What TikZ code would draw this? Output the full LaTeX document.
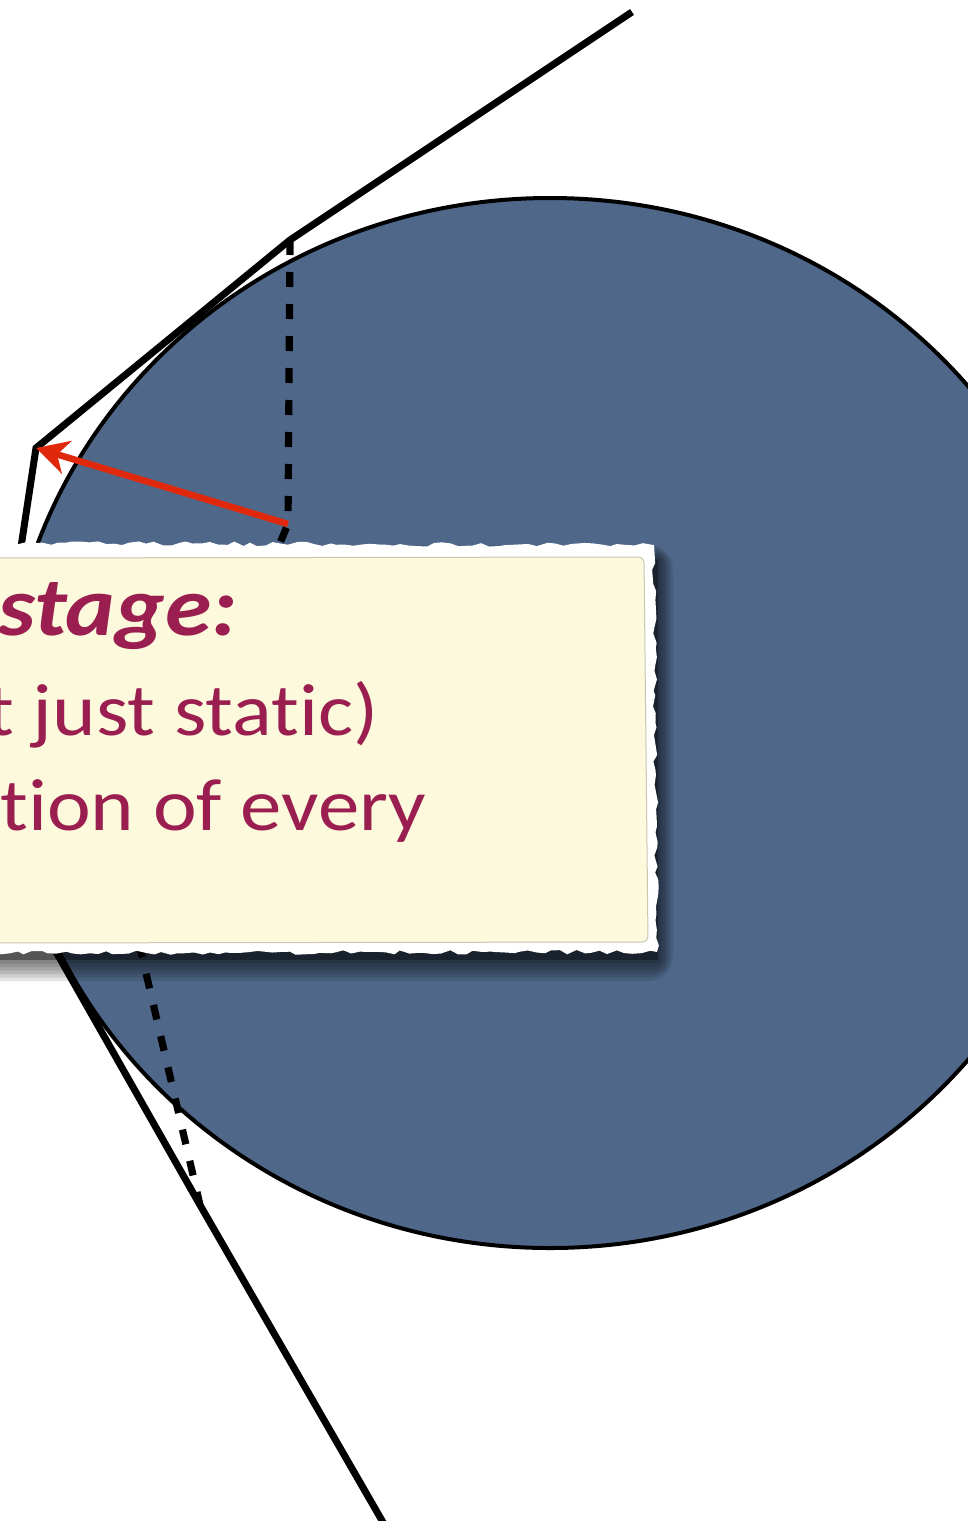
\documentclass[tikz,border=0pt]{standalone}
\usepackage{fontspec}
\setmainfont[FakeStretch=1.12,Ligatures=NoCommon]{Carlito}
\usetikzlibrary{arrows.meta,decorations.pathmorphing}
\definecolor{ink}{HTML}{000000}
\definecolor{disc}{HTML}{4F688A}
\definecolor{paper}{HTML}{FDF9DC}
\definecolor{paperedge}{HTML}{C9C6B4}
\definecolor{plum}{HTML}{9A1F50}
\definecolor{pointer}{HTML}{E0290C}
\tikzset{
 hull/.style={draw=ink,line width=3.5pt,line join=miter},
 guide/.style={draw=ink,line width=3.6pt,dash pattern=on 7.5pt off 8.5pt},
 region/.style={draw=ink,fill=disc,line width=2pt},
 jump/.style={-{Stealth[length=16pt,width=17pt,inset=5pt]},draw=pointer,line width=3.3pt},
 torn/.style={fill=white,decorate,decoration={random steps,segment length=4pt,amplitude=1.1pt}},
 sheet/.style={fill=paper,draw=paperedge,line width=.5pt,rounded corners=3pt},
 heading/.style={font=\fontsize{42}{50}\selectfont\bfseries\itshape,text=plum,inner sep=0pt},
 body/.style={font=\fontsize{37}{45}\selectfont,text=plum,inner sep=0pt},
}
\pgfmathsetseed{7}

\begin{document}
\begin{tikzpicture}[x=0.5pt,y=-0.5pt]
\useasboundingbox (0,0) rectangle (968,1521);
\clip (0,0) rectangle (968,1521);
\fill[white] (0,0) rectangle (968,1521);

\draw[region] (550,723) ellipse [x radius=545,y radius=525];

\coordinate (far) at (632,12);
\coordinate (upper) at (290,240);
\coordinate (apex) at (36,448);
\coordinate (hidden) at (-20,818);
\coordinate (lower) at (200,1205);
\coordinate (tail) at (384,1524);
\coordinate (bend) at (288,524);
\coordinate (under) at (129,900);

\draw[hull] (far) -- (upper) -- (apex) -- (hidden) -- (lower) -- (tail);
\draw[guide] (upper) -- (bend) -- (under) -- (lower);
\draw[jump] (bend) -- (apex);

\fill[black,opacity=.35] (-60,560) rectangle (658,960);
\foreach \k in {1,...,6}
  \fill[black,opacity=.1,rounded corners=\k*2] (-60-\k*2.5,560-\k*2.5) rectangle (658+\k*2.5,960+\k*3.5);

\fill[torn] (-30,543) -- (654,545) -- (657,952) -- (-30,953) -- cycle;
\draw[sheet] (-30,558) -- (644,557) -- (648,942) -- (-30,943) -- cycle;

\node[heading,anchor=base west] (title) at (-2,635) {stage:};
\node[body,anchor=base west] (static) at (-14,735) {t just static)};
\node[body,anchor=base west] (every) at (0,830) {tion of every};

\end{tikzpicture}
\end{document}
